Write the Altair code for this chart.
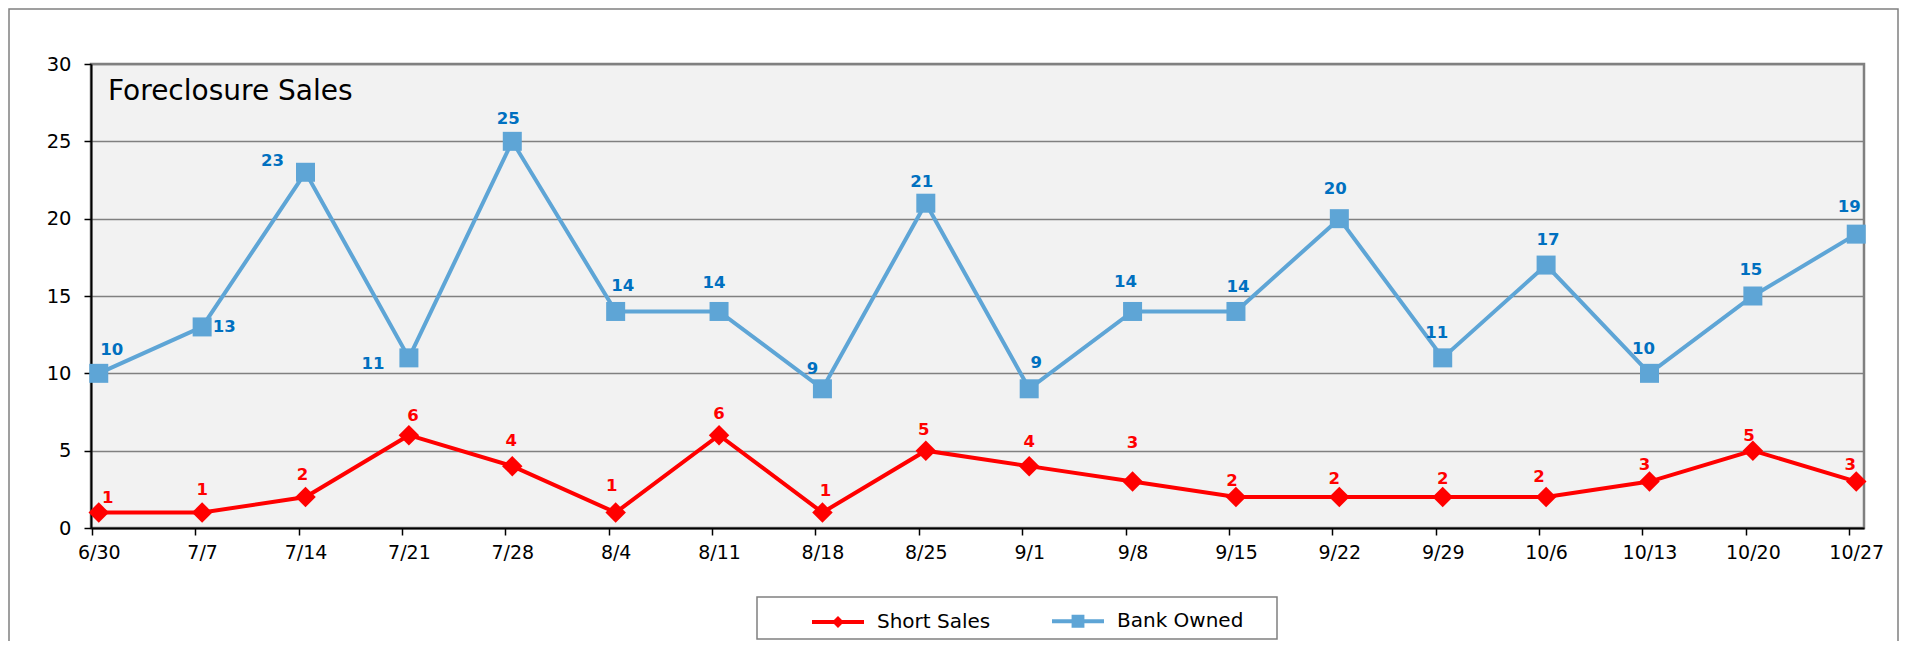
import altair as alt
import pandas as pd

# ---- data ----
dates = ["6/30", "7/7", "7/14", "7/21", "7/28", "8/4", "8/11", "8/18", "8/25", "9/1",
         "9/8", "9/15", "9/22", "9/29", "10/6", "10/13", "10/20", "10/27"]
short_sales = [1, 1, 2, 6, 4, 1, 6, 1, 5, 4, 3, 2, 2, 2, 2, 3, 5, 3]
bank_owned = [10, 13, 23, 11, 25, 14, 14, 9, 21, 9, 14, 14, 20, 11, 17, 10, 15, 19]
series_names = ["Short Sales", "Bank Owned"]
title_text = "Foreclosure Sales"

# ---- label placement (pixel offsets from each point; styling only) ----
short_dx = [9, 0, -3, 4, -1, -4, 0, 3, -2, 0, 0, -4, -5, 0, -7, -5, -4, -6]
short_dy = [-10, -18, -17, -14, -20, -22, -16, -17, -16, -19, -34, -11, -13, -13, -15, -12, -10, -12]
bank_dx = [13, 22, -33, -36, -4, 7, -5, -10, -4, 7, -7, 2, -4, -6, 2, -6, -2, -7]
bank_dy = [-18, 5, -6, 11, -17, -20, -23, -15, -16, -21, -24, -19, -25, -20, -20, -19, -21, -22]

rows = []
for i, d in enumerate(dates):
    rows.append({"date": d, "series": series_names[0], "value": short_sales[i],
                 "dx": short_dx[i], "dy": short_dy[i]})
    rows.append({"date": d, "series": series_names[1], "value": bank_owned[i],
                 "dx": bank_dx[i], "dy": bank_dy[i]})
df = pd.DataFrame(rows)

FONT = "DejaVu Sans"
RED = "#ff0000"
BLUE = "#5ea5d6"
BLUE_TXT = "#0070c0"

W, H = 1773, 464

color_scale = alt.Scale(domain=series_names, range=[RED, BLUE])

x_enc = alt.X("date:N", sort=dates,
              scale=alt.Scale(type="point", padding=0.075),
              axis=alt.Axis(title=None, labelAngle=0, labelFont=FONT, labelFontSize=19,
                            labelColor="black", tickColor="black", tickSize=7, tickWidth=1.5,
                            domainColor="black", domainWidth=2, labelPadding=8,
                            tickOffset=-7, labelOffset=7, grid=False))
y_enc = alt.Y("value:Q", scale=alt.Scale(domain=[0, 30], nice=False),
              axis=alt.Axis(title=None, values=[0, 5, 10, 15, 20, 25, 30], labelFont=FONT,
                            labelFontSize=19.5, labelColor="black", tickColor="black",
                            tickSize=7, tickWidth=1.5, domainColor="black", domainWidth=2,
                            labelPadding=13, grid=True, gridColor="#808080", gridWidth=1.5))

frame = alt.Chart(pd.DataFrame({"k": [0]})).mark_rect(
    filled=False, stroke="#808080", strokeWidth=1.5
).encode(x=alt.value(-82), x2=alt.value(W + 34), y=alt.value(-55), y2=alt.value(H + 200))

legend_frame = alt.Chart(pd.DataFrame({"k": [0]})).mark_rect(
    filled=False, stroke="#808080", strokeWidth=1.5
).encode(x=alt.value(666), x2=alt.value(1186), y=alt.value(533), y2=alt.value(575))

title = alt.Chart(pd.DataFrame({"t": [title_text]})).mark_text(
    align="left", baseline="alphabetic", font=FONT, fontSize=28, color="black"
).encode(text="t:N", x=alt.value(17), y=alt.value(36))

base = alt.Chart(df)

line_short = base.transform_filter(alt.datum.series == series_names[0]).mark_line(
    strokeWidth=4, color=RED).encode(x=x_enc, y=y_enc)
line_bank = base.transform_filter(alt.datum.series == series_names[1]).mark_line(
    strokeWidth=4, color=BLUE).encode(x=x_enc, y=y_enc)

legend = alt.Legend(
    title=None, orient="none", legendX=719, legendY=529, direction="horizontal",
    padding=0, labelFont=FONT, labelFontSize=20, labelColor="black", labelOffset=11,
    columnPadding=53, symbolSize=2704, symbolOpacity=1, symbolStrokeWidth=4,
    symbolType={"expr": "datum.value === 'Short Sales' ? 'M-1,0L1,0M-0.12,0L0,-0.12L0.12,0L0,0.12Z' : 'M-1,0L1,0M-0.17,-0.17L0.17,-0.17L0.17,0.17L-0.17,0.17Z'"},
    symbolStrokeColor={"expr": "scale('color', datum.value)"},
)

# small filled dots hidden under the markers; they carry the series legend
legend_carrier = base.mark_point(filled=True, size=20, opacity=1).encode(
    x=x_enc, y=y_enc,
    color=alt.Color("series:N", scale=color_scale, legend=legend),
)

pts_short = base.transform_filter(alt.datum.series == series_names[0]).mark_point(
    filled=True, opacity=1, shape="diamond", size=420, color=RED).encode(x=x_enc, y=y_enc)
pts_bank = base.transform_filter(alt.datum.series == series_names[1]).mark_point(
    filled=True, opacity=1, shape="square", size=361, color=BLUE).encode(x=x_enc, y=y_enc)

labels = base.mark_text(
    align="center", baseline="alphabetic", font=FONT, fontSize=16.5, fontWeight="bold",
    dx=alt.ExprRef("datum.dx"), dy=alt.ExprRef("datum.dy"),
).encode(
    x=x_enc, y=y_enc,
    text="value:Q",
    color=alt.condition(alt.datum.series == "Short Sales", alt.value(RED), alt.value(BLUE_TXT)),
)

chart = alt.layer(frame, legend_frame, title, line_short, line_bank, legend_carrier,
                  pts_short, pts_bank, labels).properties(
    width=W, height=H,
    autosize=alt.AutoSizeParams(type="none"),
    padding={"left": 83, "top": 56, "right": 36, "bottom": 113},
    background="white",
).configure(font=FONT).configure_view(fill="#f2f2f2", stroke="#808080", strokeWidth=2.5)

chart.save("out.html", embed_options={"renderer": "svg", "actions": False})
